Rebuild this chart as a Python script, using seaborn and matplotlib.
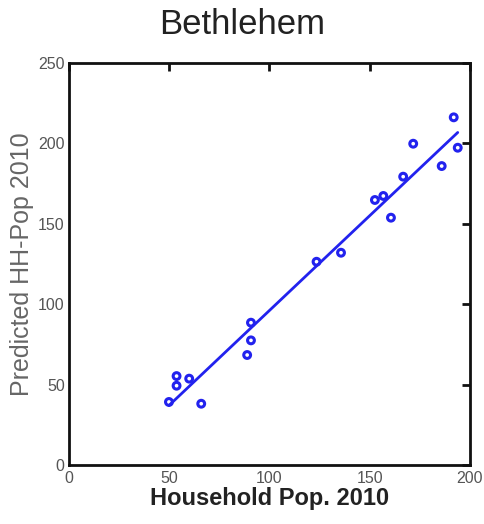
"""
Bethlehem: predicted vs actual household population, 2010
"""
import matplotlib
matplotlib.use("Agg")
import matplotlib.pyplot as plt
import seaborn as sns
import pandas

# values
household_pop = [191.9, 193.9, 171.7, 185.9, 166.7, 152.6, 156.8, 160.6, 135.7, 123.5,
                 90.8, 90.8, 88.9, 53.7, 53.7, 60.0, 49.9, 66.0]
predicted_pop = [216.2, 197.3, 199.8, 185.9, 179.3, 164.8, 167.3, 153.8, 132.0, 126.4,
                 88.5, 77.5, 68.4, 55.3, 49.3, 53.7, 39.2, 38.1]
x_ticks = [0, 50, 100, 150, 200]
y_ticks = [0, 50, 100, 150, 200, 250]

sns.set_style("white")
plt.rcParams['font.family'] = ['Liberation Sans', 'DejaVu Sans']

data = pandas.DataFrame({'hh': household_pop, 'pred': predicted_pop})

fig = plt.figure(figsize=(4.85, 5.24), dpi=100)
ax = fig.add_axes([0.142, 0.1126, 0.827, 0.7672])

blue = '#2222ee'
sns.regplot(data=data, x='hh', y='pred', ax=ax, ci=None,
            scatter_kws={'s': 24, 'facecolors': 'none', 'edgecolors': blue,
                         'linewidths': 2.2, 'alpha': 1},
            line_kws={'color': blue, 'linewidth': 2})

ax.set_xlim(0, 200)
ax.set_ylim(0, 250)
ax.set_xticks(x_ticks)
ax.set_yticks(y_ticks)

for s in ax.spines.values():
    s.set_visible(True)
    s.set_color('#111111')
    s.set_linewidth(2)

ax.tick_params(direction='in', length=6, width=2, top=True, right=True,
               labelsize=11.5, labelcolor='#555555', color='#111111')
ax.tick_params(axis='x', pad=4)
ax.tick_params(axis='y', pad=3)

ax.set_xlabel('Household Pop. 2010', fontsize=17, fontweight='bold', color='#222222', labelpad=1)
ax.set_ylabel('Predicted HH-Pop 2010', fontsize=18, color='#666666', labelpad=3)
fig.suptitle('Bethlehem', fontsize=25, color='#222222', y=0.985)

fig.savefig('out.png', dpi=100)
